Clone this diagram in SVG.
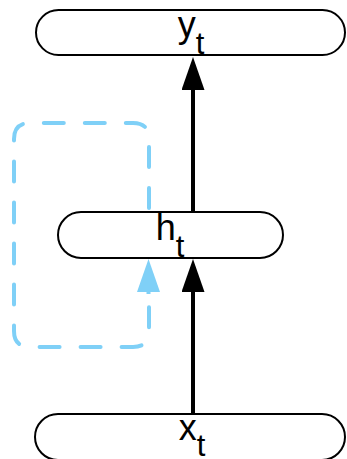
<svg xmlns="http://www.w3.org/2000/svg" width="347" height="459" viewBox="0 0 347 459">
<style>
.node{fill:#fff;stroke:#000;stroke-width:2}
.lbl{font-family:"Liberation Sans",Arial,sans-serif;font-size:36px;fill:#000;text-anchor:middle}
.sub{font-size:31px}
.edge{stroke:#000;stroke-width:4;fill:none}
.loop{stroke:#7fd0f7;stroke-width:4;fill:none;stroke-dasharray:20 21;stroke-linecap:round}
</style>
<defs>
<marker id="ab" markerUnits="userSpaceOnUse" markerWidth="34" markerHeight="24" refX="0" refY="11.5" orient="auto" viewBox="0 0 34 24">
<path d="M0,0 L33,11.5 L0,23 z" fill="#000"/>
</marker>
<marker id="abl" markerUnits="userSpaceOnUse" markerWidth="34" markerHeight="24" refX="0" refY="11.5" orient="auto" viewBox="0 0 34 24">
<path d="M0,0 L33,11.5 L0,23 z" fill="#7fd0f7"/>
</marker>
</defs>
<g id="connectors">
<line class="edge" x1="193" y1="212" x2="193" y2="90" marker-end="url(#ab)"/>
<line class="edge" x1="193" y1="414" x2="193" y2="292" marker-end="url(#ab)"/>
<path class="loop" d="M149,208 V139 Q149,123 133,123 H30 Q14,123 14,139 V331 Q14,347 30,347 H133 Q149,347 149,331 V293"/>
<line x1="148.5" y1="294" x2="148.5" y2="292" stroke="#7fd0f7" stroke-width="4" marker-end="url(#abl)"/>
</g>
<g id="node-y">
<rect class="node" x="36" y="10" width="309" height="45" rx="22.5"/>
<text class="lbl" x="191" y="37">y<tspan class="sub" dy="17">t</tspan></text>
</g>
<g id="node-h">
<rect class="node" x="58" y="212" width="225" height="46" rx="23"/>
<text class="lbl" x="170" y="240">h<tspan class="sub" dy="17">t</tspan></text>
</g>
<g id="node-x">
<rect class="node" x="35" y="414" width="310" height="46" rx="23"/>
<text class="lbl" x="192" y="440">x<tspan class="sub" dy="16">t</tspan></text>
</g>
</svg>
